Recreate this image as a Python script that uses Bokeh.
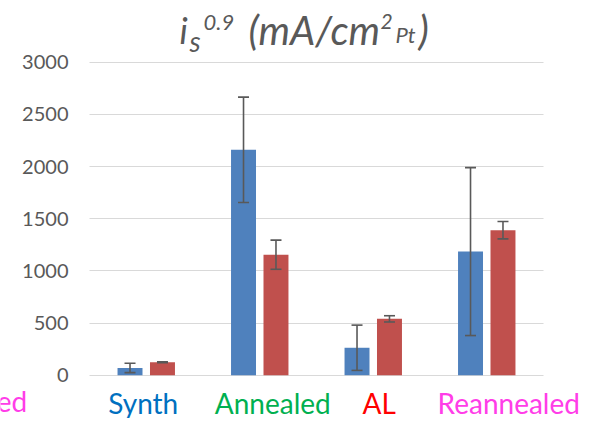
import numpy as np
from bokeh.plotting import figure
from bokeh.models import (ColumnDataSource, Range1d, FixedTicker, Whisker, TeeHead, Label,
                          LinearAxis, Grid)
from bokeh.embed import file_html
from bokeh.resources import INLINE

# ---- data ----
categories = ["Synth", "Annealed", "AL", "Reannealed"]
blue_vals = [70, 2160, 263, 1185]
blue_err = [45, 505, 217, 805]
red_vals = [125, 1155, 540, 1390]
red_err = [4, 140, 30, 83]
label_colors = ["#0070C0", "#00B050", "#FF0000", "#FF3DE8"]
y_ticks = [0, 500, 1000, 1500, 2000, 2500, 3000]

BLUE = "#4F81BD"
RED = "#C0504D"
GRAY = "#595959"
FONT = "Lato"

W, H = 590, 418
# plot area: x 89..543 px, y value 0 at 374.7 px, 3000 at 61.7 px (from top)
px_per_cat = (543 - 89) / len(categories)
px_per_val = (374.7 - 61.7) / y_ticks[-1]
x_range = Range1d(-89 / px_per_cat, (W - 89) / px_per_cat)
y_range = Range1d(-(H - 374.7) / px_per_val, 374.7 / px_per_val)

p = figure(width=W, height=H, output_backend="svg", toolbar_location=None,
           x_range=x_range, y_range=y_range,
           x_axis_location=None, y_axis_location=None,
           min_border=0, min_border_left=0, min_border_right=0,
           min_border_top=0, min_border_bottom=0)
p.outline_line_color = None
p.background_fill_color = "white"
p.border_fill_color = "white"
p.xgrid.visible = False
p.ygrid.visible = False

# y axis placed at the left edge of the plot area
yax = LinearAxis(fixed_location=0, ticker=FixedTicker(ticks=y_ticks))
yax.axis_line_color = None
yax.major_tick_line_color = None
yax.minor_tick_line_color = None
yax.major_tick_out = 0
yax.major_tick_in = 0
yax.major_label_standoff = 21
yax.major_label_text_font = FONT
yax.major_label_text_font_size = "20px"
yax.major_label_text_color = GRAY
p.add_layout(yax, "left")

grid = Grid(dimension=1, ticker=FixedTicker(ticks=y_ticks), cross_bounds=(0, len(categories)),
            grid_line_color="#D9D9D9", grid_line_width=1.2)
p.add_layout(grid)

xs = np.arange(len(categories)) + 0.5
off = 0.143
bw = 0.22

blue = ColumnDataSource(dict(x=xs - off, top=blue_vals,
                             upper=np.array(blue_vals) + np.array(blue_err),
                             lower=np.array(blue_vals) - np.array(blue_err)))
red = ColumnDataSource(dict(x=xs + off, top=red_vals,
                            upper=np.array(red_vals) + np.array(red_err),
                            lower=np.array(red_vals) - np.array(red_err)))

p.vbar(x="x", top="top", bottom=0, width=bw, source=blue, fill_color=BLUE, line_color=None)
p.vbar(x="x", top="top", bottom=0, width=bw, source=red, fill_color=RED, line_color=None)

for src in (blue, red):
    w = Whisker(base="x", upper="upper", lower="lower", source=src,
                line_color=GRAY, line_width=1.6,
                upper_head=TeeHead(size=11, line_color=GRAY, line_width=1.6),
                lower_head=TeeHead(size=11, line_color=GRAY, line_width=1.6))
    w.level = "annotation"
    p.add_layout(w)

# category labels (coloured text below the plot)
cat_dx = [-3, 13, 6, 22]
for i, (c, col) in enumerate(zip(categories, label_colors)):
    p.add_layout(Label(x=xs[i], y=0, text=c, text_color=col, text_font=FONT,
                       text_font_size="28px", text_align="center", text_baseline="alphabetic",
                       x_offset=cat_dx[i], y_offset=-28))
# clipped leftover label on the left edge
p.add_layout(Label(x=xs[0], y=0, text="ed", text_color=label_colors[3], text_font=FONT,
                   text_font_size="28px", text_align="right", text_baseline="alphabetic",
                   x_offset=-119, y_offset=-26))

# title pieces: i_s^0.9 (mA/cm^2_Pt)
title_parts = [
    ("i", "36px", -137, 32),
    ("s", "28px", -127, 21),
    ("0.9", "22px", -113, 40),
    ("(mA/cm", "40px", -68, 32),
    ("2", "21px", 64, 41),
    ("Pt", "22px", 79, 28),
    (")", "40px", 102, 32),
]
for txt, size, dx, dy in title_parts:
    p.add_layout(Label(x=len(categories) / 2, y=y_ticks[-1], text=txt, text_color=GRAY,
                       text_font=FONT, text_font_style="italic", text_font_size=size,
                       text_align="left", text_baseline="alphabetic",
                       x_offset=dx, y_offset=dy))

open("out.html", "w").write(file_html(p, INLINE))
